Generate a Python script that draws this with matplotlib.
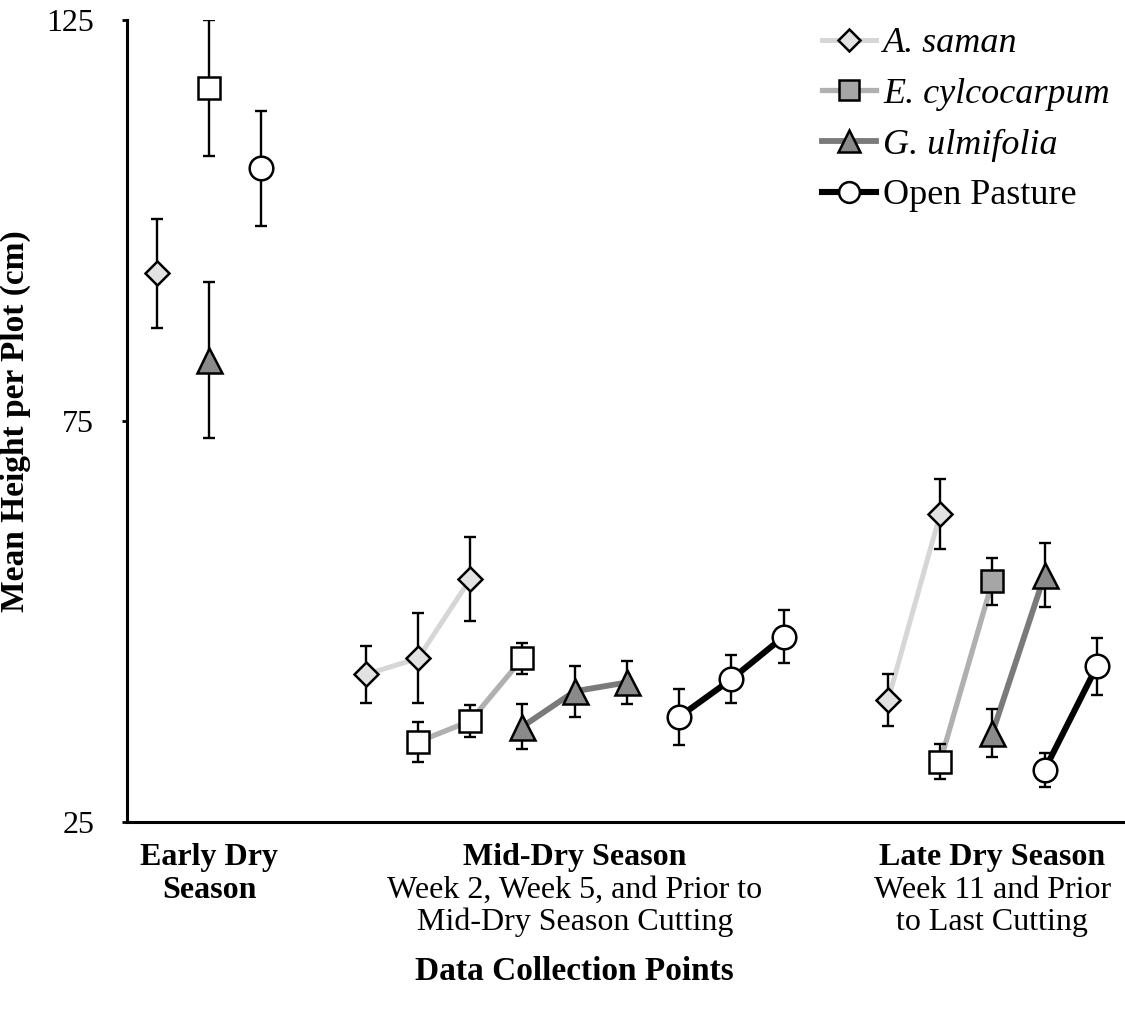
"""Mean pasture height per plot across the dry season, by tree species."""

import matplotlib

matplotlib.use("Agg")
import matplotlib.pyplot as plt
from matplotlib.lines import Line2D
from matplotlib.transforms import blended_transform_factory

plt.rcParams["font.family"] = ["Liberation Serif", "DejaVu Serif"]

# slot positions along the x axis (one slot per sampling point), grouped by season
SAMAN_X = [[1], [5, 6, 7], [15, 16]]
SAMAN_MEAN = [[93.4], [43.4, 45.4, 55.3], [40.2, 63.4]]
SAMAN_ERR = [[6.8], [3.6, 5.6, 5.2], [3.2, 4.4]]

CYCLO_X = [[2], [6, 7, 8], [16, 17]]
CYCLO_MEAN = [[116.5], [35.0, 37.6, 45.4], [32.5, 55.0]]
CYCLO_ERR = [[8.5], [2.5, 2.0, 1.9], [2.2, 2.9]]

ULMI_X = [[2], [8, 9, 10], [17, 18]]
ULMI_MEAN = [[82.6], [36.9, 41.3, 42.4], [36.1, 55.8]]
ULMI_ERR = [[9.7], [2.8, 3.2, 2.7], [3.0, 4.0]]

PASTURE_X = [[3], [11, 12, 13], [18, 19]]
PASTURE_MEAN = [[106.5], [38.1, 42.8, 48.1], [31.5, 44.4]]
PASTURE_ERR = [[7.2], [3.5, 3.0, 3.3], [2.1, 3.6]]

LABELS = ["A. saman", "E. cylcocarpum", "G. ulmifolia", "Open Pasture"]

SEASON_X = [2, 9, 17]
SEASON_TITLES = ["Early Dry", "Mid-Dry Season", "Late Dry Season"]
SEASON_NOTES = [
    ["Season"],
    ["Week 2, Week 5, and Prior to", "Mid-Dry Season Cutting"],
    ["Week 11 and Prior", "to Last Cutting"],
]
NOTE_BOLD = [True, False, False]

YTICKS = [25, 75, 125]

FS = 23

series = [
    # x, mean, err, line colour, line width, marker, marker size, face colours per season
    (SAMAN_X, SAMAN_MEAN, SAMAN_ERR, "#d6d6d6", 3.6, "D", 12.5, ["#e2e2e2"] * 3),
    (CYCLO_X, CYCLO_MEAN, CYCLO_ERR, "#b0b0b0", 3.8, "s", 16, [["white"], ["white"] * 3, ["white", "#a6a6a6"]]),
    (ULMI_X, ULMI_MEAN, ULMI_ERR, "#7a7a7a", 4.2, "^", 18, ["#8a8a8a"] * 3),
    (PASTURE_X, PASTURE_MEAN, PASTURE_ERR, "black", 4.4, "o", 17, ["white"] * 3),
]

fig = plt.figure(figsize=(11.25, 10.16), dpi=100)
ax = fig.add_axes([127 / 1125, 1 - 822 / 1016, 1 - 127 / 1125, 802 / 1016])

handles = []
for xs, means, errs, lc, lw, mk, ms, faces in series:
    for g, (x, m, e) in enumerate(zip(xs, means, errs)):
        ax.plot(x, m, color=lc, lw=lw, solid_capstyle="butt", zorder=2)
        ax.errorbar(x, m, yerr=e, fmt="none", ecolor="black", elinewidth=1.7,
                    capsize=4.5, capthick=1.7, zorder=3)
        fc = faces[g] if isinstance(faces[g], list) else [faces[g]] * len(x)
        for xi, mi, fci in zip(x, m, fc):
            ax.plot([xi], [mi], marker=mk, ms=ms, mfc=fci, mec="black", mew=1.8,
                    ls="none", zorder=4)
    leg_face = "#a6a6a6" if mk == "s" else (faces[0] if not isinstance(faces[0], list) else faces[0][0])
    handles.append(Line2D([], [], color=lc, lw=lw, marker=mk, ms=ms * 0.88,
                          mfc=leg_face, mec="black", mew=1.8))

ax.set_xlim(0.425, 19.54)
ax.set_ylim(25, 125)
ax.set_yticks(YTICKS)
ax.set_xticks([])
ax.tick_params(axis="y", labelsize=FS, length=3.5, width=2, pad=20)
for side in ("top", "right"):
    ax.spines[side].set_visible(False)
for side in ("left", "bottom"):
    ax.spines[side].set_linewidth(2.2)

ax.set_ylabel("Mean Height per Plot (cm)", fontsize=24, fontweight="bold")
ax.yaxis.set_label_coords(-0.096, 0.5)

trans = blended_transform_factory(ax.transData, ax.transAxes)
for sx, title, notes, nb in zip(SEASON_X, SEASON_TITLES, SEASON_NOTES, NOTE_BOLD):
    ax.annotate(title, (sx, 0), xycoords=trans, xytext=(0, -25.5), textcoords="offset points",
                ha="center", va="center", fontsize=FS, fontweight="bold")
    for i, line in enumerate(notes):
        ax.annotate(line, (sx, 0), xycoords=trans, xytext=(0, -25.5 - 23.5 * (i + 1)),
                    textcoords="offset points", ha="center", va="center", fontsize=FS,
                    fontweight="bold" if nb else "normal")

ax.annotate("Data Collection Points", (9, 0), xycoords=trans, xytext=(0, -108),
            textcoords="offset points", ha="center", va="center", fontsize=24,
            fontweight="bold")

leg = ax.legend(handles, LABELS, loc="upper left", bbox_to_anchor=(0.696, 0.991),
                frameon=False, fontsize=26, handlelength=1.5, handletextpad=0.2,
                labelspacing=0.48, borderpad=0, borderaxespad=0)
for t in leg.get_texts()[:3]:
    t.set_fontstyle("italic")

fig.savefig("out.png", dpi=100)
